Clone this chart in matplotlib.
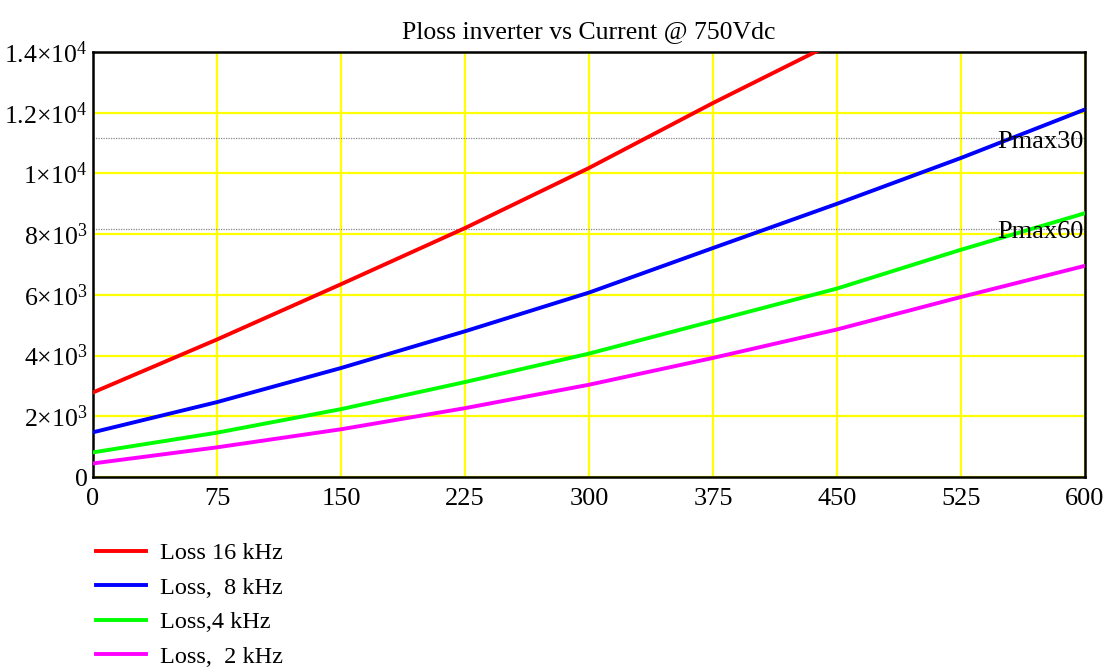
import matplotlib
matplotlib.use("Agg")
import matplotlib.pyplot as plt

plt.rcParams['font.family'] = ['Liberation Serif', 'DejaVu Serif']
plt.rcParams['mathtext.fontset'] = 'custom'
plt.rcParams['mathtext.rm'] = 'Liberation Serif'
plt.rcParams['mathtext.it'] = 'Liberation Serif:italic'

current = [0, 75, 150, 225, 300, 375, 450, 525, 600]
loss_16k = [2785, 4530, 6350, 8200, 10180, 12320, 14360]
loss_8k = [1473, 2467, 3590, 4800, 6075, 7543, 9000, 10510, 12108]
loss_4k = [811, 1460, 2235, 3128, 4065, 5136, 6208, 7487, 8690]
loss_2k = [447, 977, 1572, 2268, 3039, 3923, 4860, 5930, 6957]
pmax30 = 11180
pmax60 = 8170

series_labels = ["Loss 16 kHz", "Loss,  8 kHz", "Loss,4 kHz", "Loss,  2 kHz"]
series_colors = ["#ff0000", "#0000ff", "#00ff00", "#ff00ff"]

xticks = [0, 75, 150, 225, 300, 375, 450, 525, 600]
yticks = [0, 2000, 4000, 6000, 8000, 10000, 12000, 14000]
ytick_labels = [r"$0$", r"$2{\times}10^{3}$", r"$4{\times}10^{3}$", r"$6{\times}10^{3}$",
                r"$8{\times}10^{3}$", r"$1{\times}10^{4}$", r"$1.2{\times}10^{4}$",
                r"$1.4{\times}10^{4}$"]

fig = plt.figure(figsize=(11.18, 6.71), dpi=100)
ax = fig.add_axes([93/1118, 1 - 477/671, 992/1118, 425/671])

ax.set_xlim(0, 600)
ax.set_ylim(0, 14000)
ax.set_xticks(xticks)
ax.set_xticklabels([str(t) for t in xticks])
ax.set_yticks(yticks)
ax.set_yticklabels(ytick_labels)
ax.grid(True, color="#ffff00", linewidth=1.6, zorder=0)
ax.set_axisbelow(True)
ax.tick_params(axis="x", length=0, labelsize=19, pad=8)
ax.tick_params(axis="y", length=0, labelsize=18.5, pad=4)
for s in ax.spines.values():
    s.set_linewidth(1.8)
    s.set_color("black")

ax.axhline(pmax30, color="#888888", linestyle=(0, (1, 1)), linewidth=0.9, zorder=1)
ax.axhline(pmax60, color="#888888", linestyle=(0, (1, 1)), linewidth=0.9, zorder=1)

all_series = [loss_16k, loss_8k, loss_4k, loss_2k]
handles = []
for data, lab, col in zip(all_series, series_labels, series_colors):
    h, = ax.plot(current[:len(data)], data, color=col, linewidth=2.8, label=lab, zorder=3)
    handles.append(h)

ax.text(599, pmax30 - 150, "Pmax30", ha="right", va="center", fontsize=19, zorder=4)
ax.text(599, pmax60 - 100, "Pmax60", ha="right", va="center", fontsize=19, zorder=4)

ax.set_title("Ploss inverter vs Current @ 750Vdc", fontsize=18.5, pad=10)

fig.legend(handles=handles, labels=series_labels, loc="upper left",
           bbox_to_anchor=(96/1118, 1 - 542/671), frameon=False, fontsize=17.5,
           handlelength=2.05, handletextpad=0.58, labelspacing=0.52,
           borderaxespad=0, borderpad=0)

fig.savefig("out.png", dpi=100)
